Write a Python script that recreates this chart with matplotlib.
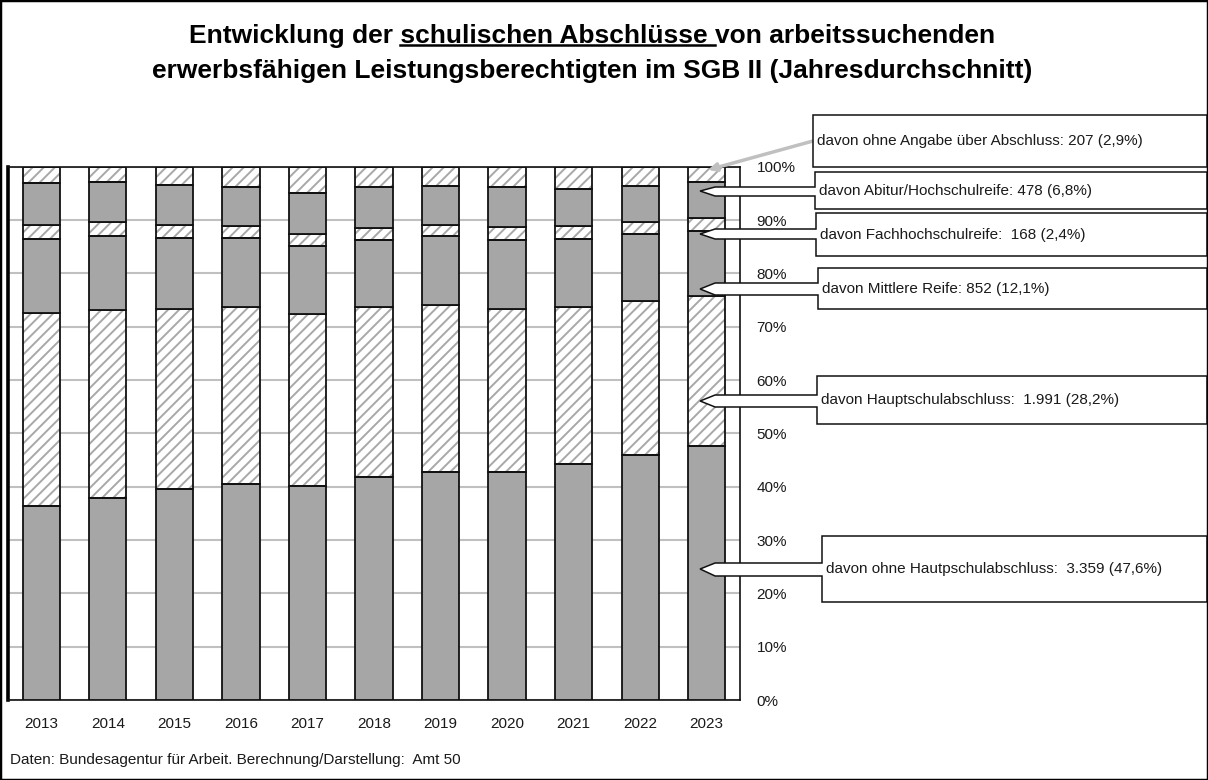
import matplotlib
matplotlib.use("Agg")
import matplotlib.pyplot as plt
from matplotlib import font_manager
from matplotlib.patches import Polygon, Rectangle
from matplotlib.lines import Line2D
import numpy as np

# narrow Arial-like face if there is one, else plain Liberation Sans
installed = {f.name for f in font_manager.fontManager.ttflist}
base_font = 'Liberation Sans Narrow' if 'Liberation Sans Narrow' in installed else 'Liberation Sans'
plt.rcParams['font.family'] = [base_font, 'DejaVu Sans']
plt.rcParams['hatch.linewidth'] = 1.4

# data: shares in % per year, bottom to top
years = ['2013', '2014', '2015', '2016', '2017', '2018', '2019', '2020', '2021', '2022', '2023']
ohne_hs = [36.3, 37.8, 39.5, 40.5, 40.2, 41.9, 42.7, 42.7, 44.3, 45.9, 47.6]
hauptschule = [36.2, 35.4, 33.9, 33.2, 32.2, 31.8, 31.4, 30.7, 29.3, 29.0, 28.2]
mittlere_reife = [13.9, 13.8, 13.3, 12.9, 12.7, 12.5, 12.9, 12.9, 12.8, 12.5, 12.1]
fachhochschulreife = [2.7, 2.6, 2.4, 2.3, 2.3, 2.3, 2.1, 2.4, 2.4, 2.3, 2.4]
abitur = [7.9, 7.6, 7.5, 7.35, 7.6, 7.6, 7.3, 7.4, 7.0, 6.6, 6.8]
ohne_angabe = [3.0, 2.8, 3.4, 3.75, 5.0, 3.9, 3.6, 3.9, 4.2, 3.7, 2.9]

series = [ohne_hs, hauptschule, mittlere_reife, fachhochschulreife, abitur, ohne_angabe]
hatched = [False, True, False, True, False, True]

callout_texts = [
    "davon ohne Hautpschulabschluss:  3.359 (47,6%)",
    "davon Hauptschulabschluss:  1.991 (28,2%)",
    "davon Mittlere Reife: 852 (12,1%)",
    "davon Fachhochschulreife:  168 (2,4%)",
    "davon Abitur/Hochschulreife: 478 (6,8%)",
]
angabe_text = "davon ohne Angabe über Abschluss: 207 (2,9%)"

W, H = 1208, 780
fig = plt.figure(figsize=(W / 100, H / 100), dpi=100)
ax = fig.add_axes([8 / W, 1 - 700 / H, (740 - 8) / W, (700 - 166.7) / H])

x = np.arange(len(years))
bottom = np.zeros(len(years))
for vals, hat in zip(series, hatched):
    vals = np.array(vals)
    if hat:
        ax.bar(x, vals, 0.56, bottom=bottom, color='white', edgecolor='#a8a8a8',
               hatch='///', linewidth=0, zorder=2)
        ax.bar(x, vals, 0.56, bottom=bottom, fill=False, edgecolor='#111111',
               linewidth=1.3, zorder=3)
    else:
        ax.bar(x, vals, 0.56, bottom=bottom, color='#a6a6a6', edgecolor='#111111',
               linewidth=1.3, zorder=3)
    bottom += vals

ax.set_xlim(-0.5, 10.5)
ax.set_ylim(0, 100)
ax.set_yticks(np.arange(0, 101, 10))
ax.set_yticklabels([f"{v}%" for v in range(0, 101, 10)])
ax.yaxis.tick_right()
ax.tick_params(axis='y', length=0, pad=12, labelsize=11, labelcolor='#1a1a1a')
ax.set_xticks(x)
ax.set_xticklabels(years)
ax.tick_params(axis='x', length=0, pad=12, labelsize=11, labelcolor='#1a1a1a')
ax.grid(axis='y', color='#c0c0c0', linewidth=1.5)
ax.set_axisbelow(True)
ax.spines['left'].set_linewidth(2.6)
for s in ['top', 'right', 'bottom']:
    ax.spines[s].set_linewidth(1.2)
    ax.spines[s].set_color('#111111')


def fig_xy(px, py):
    return (px / W, 1 - py / H)


# title
line1 = "Entwicklung der schulischen Abschlüsse von arbeitssuchenden"
line2 = "erwerbsfähigen Leistungsberechtigten im SGB II (Jahresdurchschnitt)"
tprops = dict(fontsize=19, fontweight='bold', color='black')
t1 = fig.text(*fig_xy(592, 36), line1, ha='center', va='center', **tprops)
fig.text(*fig_xy(592, 71), line2, ha='center', va='center', **tprops)

fig.canvas.draw()
renderer = fig.canvas.get_renderer()


def text_w(s):
    tmp = fig.text(0, 0, s, **tprops)
    w = tmp.get_window_extent(renderer).width
    tmp.remove()
    return w


bb = t1.get_window_extent(renderer)
xw = text_w("x")
u0 = bb.x0 + text_w("Entwicklung der x") - xw
u1 = bb.x0 + text_w("Entwicklung der schulischen Abschlüsse x") - xw
uy = bb.y0 + 3
fig.add_artist(Line2D([u0 / W, u1 / W], [uy / H, uy / H], transform=fig.transFigure,
                      color='black', linewidth=1.8))

# callouts: (left, top, bottom, wedge top, wedge bottom, tip y) in pixels
box_right = 1207
callout_layout = [
    (822, 536, 602, 563, 576, 569),
    (817, 376, 424, 395, 407, 401),
    (818, 268, 309, 283, 295, 289),
    (816, 213, 256, 229, 239, 234),
    (815, 172, 209, 187, 196, 191),
]
tip_x = ax.transData.transform((10 - 0.1, 0))[0]
for txt, (xl, yt, yb, yu, yl, ytip) in zip(callout_texts, callout_layout):
    neck = tip_x + 15
    pts = [(xl, yt), (box_right, yt), (box_right, yb), (xl, yb), (xl, yl),
           (neck, yl), (tip_x, ytip), (neck, yu), (xl, yu)]
    poly = Polygon([fig_xy(px, py) for px, py in pts], closed=True,
                   transform=fig.transFigure, facecolor='white',
                   edgecolor='#111111', linewidth=1.1, zorder=5)
    fig.add_artist(poly)
    fig.text(*fig_xy(xl + 4, (yt + yb) / 2), txt, ha='left', va='center',
             fontsize=11, color='#1a1a1a', zorder=6)

# ohne Angabe box with gray connector
fig.add_artist(Rectangle(fig_xy(813, 167), (box_right - 813) / W, (167 - 115) / H,
                         transform=fig.transFigure, facecolor='white',
                         edgecolor='#111111', linewidth=1.1, zorder=5))
fig.text(*fig_xy(817, 141), angabe_text, ha='left', va='center', fontsize=11,
         color='#1a1a1a', zorder=6)
ax.annotate('', xy=(10 + 0.02, 99.4), xycoords='data',
            xytext=fig_xy(813, 141), textcoords='figure fraction',
            arrowprops=dict(arrowstyle='-|>', color='#c0c0c0', lw=2.5,
                            mutation_scale=12, shrinkA=0, shrinkB=0),
            annotation_clip=False, zorder=4)

# source
fig.text(*fig_xy(10, 760), "Daten: Bundesagentur für Arbeit. Berechnung/Darstellung:  Amt 50",
         ha='left', va='center', fontsize=11, color='#1a1a1a')

# outer frame
fig.add_artist(Rectangle((0, 0), 1, 1, transform=fig.transFigure, fill=False,
                         edgecolor='black', linewidth=2.5, zorder=10))

fig.savefig('out.png', dpi=100)
